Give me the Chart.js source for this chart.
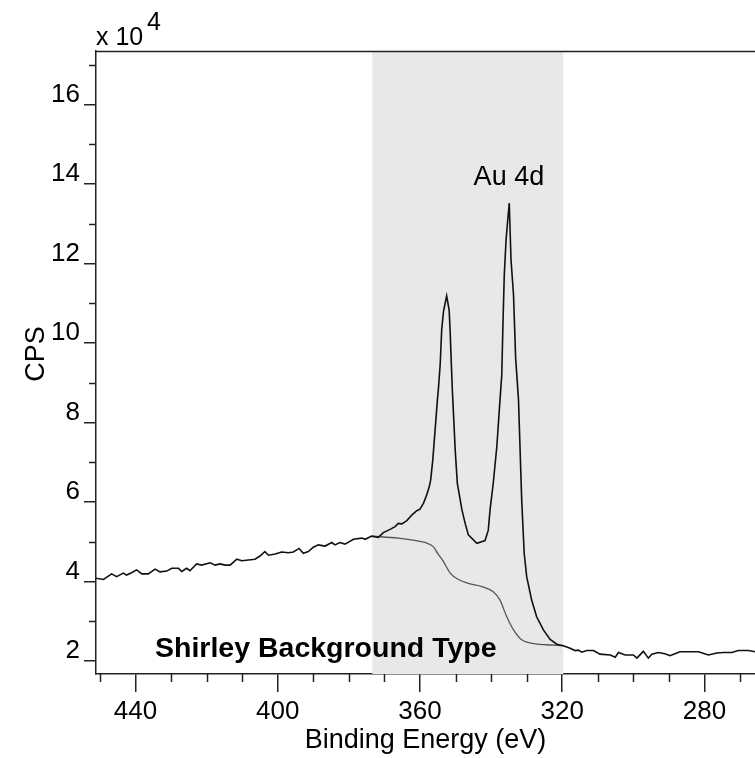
<!DOCTYPE html>
<html>
<head>
<meta charset="utf-8">
<script src="https://cdn.jsdelivr.net/npm/chart.js@4/dist/chart.umd.min.js"></script>
<style>
  html, body { margin: 0; padding: 0; background: #fff; }
  #wrap { width: 755px; height: 758px; position: relative; }
</style>
</head>
<body>
<div id="wrap"><canvas id="c"></canvas></div>
<script>
// ---- data (CPS in units of 10^4) ----
const mainEnergy = [451.2, 449.0, 446.7, 445.3, 443.4, 442.5, 441.1, 439.7, 438.2, 436.4, 434.5, 433.1, 431.2, 429.8, 427.9, 427.0, 425.6, 424.7, 422.8, 421.4, 419.0, 417.6, 416.2, 414.8,
  413.4, 411.5, 410.1, 406.4, 405.0, 403.6, 402.6, 400.7, 398.9, 397.0, 395.6, 394.0, 392.8, 391.4, 390.0, 388.6, 386.7, 384.8, 383.9, 382.5, 381.1, 378.7, 376.4, 375.4, 373.6,
  371.7, 370.3, 368.4, 367.0, 366.1, 365.1, 363.7, 362.3, 360.9, 360.0, 359.0, 358.1, 357.4, 357.0, 356.4,
  355.1,
  354.8, 354.3, 353.9, 353.4, 352.5, 351.8, 351.5, 351.2, 350.9, 350.1, 349.5, 348.2, 347.3, 346.4, 344.0, 341.7, 340.8, 340.3, 339.4, 338.4, 337.5,
  337.0, 336.7, 336.3, 335.8, 335.4, 334.9, 334.4, 333.7, 333.1, 332.3, 331.4, 330.7, 330.0, 328.6, 327.2, 325.3, 323.4, 321.5, 319.7,
  317.8, 316.4, 315.5, 314.5, 313.1, 311.2, 309.4, 306.5, 305.1, 304.2, 302.3, 300.0, 299.0, 297.2, 295.8, 294.8, 293.0, 291.1, 289.7, 288.3, 286.9, 281.7, 278.9, 276.5, 274.7, 272.3, 270.5, 267.6, 265.8];
const mainCps = [4.08, 4.05, 4.19, 4.12, 4.21, 4.16, 4.22, 4.29, 4.19, 4.19, 4.31, 4.24, 4.26, 4.33, 4.33, 4.25, 4.33, 4.27, 4.44, 4.41, 4.47, 4.41, 4.44, 4.41,
  4.41, 4.56, 4.52, 4.56, 4.64, 4.75, 4.66, 4.69, 4.74, 4.72, 4.74, 4.83, 4.71, 4.75, 4.86, 4.92, 4.89, 4.98, 4.92, 4.98, 4.94, 5.06, 5.09, 5.06, 5.14,
  5.11, 5.23, 5.31, 5.38, 5.46, 5.45, 5.53, 5.67, 5.78, 5.82, 5.97, 6.18, 6.38, 6.55, 7.06,
  8.57,
  8.87, 9.49, 10.33, 10.79, 11.19, 10.83, 10.25, 9.50, 8.82, 7.31, 6.47, 5.80, 5.46, 5.17, 4.96, 5.03, 5.29, 5.80, 6.47, 7.39, 8.57,
  9.20, 10.38, 11.71, 12.59, 13.02, 13.52, 12.09, 11.21, 9.62, 8.57, 6.05, 4.71, 4.12, 3.53, 3.11, 2.78, 2.54, 2.42, 2.38,
  2.32, 2.26, 2.27, 2.22, 2.26, 2.26, 2.17, 2.15, 2.09, 2.21, 2.15, 2.15, 2.07, 2.24, 2.07, 2.17, 2.21, 2.18, 2.13, 2.18, 2.23, 2.23, 2.15, 2.20, 2.21, 2.21, 2.26, 2.26, 2.23];

const bgEnergy = [373.6, 366.1, 361.9, 358.6, 356.2, 355.0, 353.4, 351.5, 349.2, 346.4, 342.6, 339.4, 337.5, 335.6, 333.7, 331.4, 327.6, 322.9, 319.7];
const bgCps    = [5.14, 5.09, 5.04, 4.98, 4.87, 4.70, 4.50, 4.21, 4.05, 3.95, 3.87, 3.74, 3.53, 3.11, 2.78, 2.53, 2.43, 2.40, 2.38];

const shadeRange = [373.4, 319.7];          // eV, fitting region
const xRange = [265.8, 451.1];               // eV (axis reversed)
const yRange = [1.67, 17.35];                // x 10^4 CPS
const xMajorTicks = [440, 400, 360, 320, 280];
const yMajorTicks = [2, 4, 6, 8, 10, 12, 14, 16];
const peakLabel = 'Au 4d';
const bgLabel = 'Shirley Background Type';
const yTitle = 'CPS';
const xTitle = 'Binding Energy (eV)';

const FONT = '"Liberation Sans", Arial, Helvetica, sans-serif';

const toXY = (xs, ys) => xs.map((x, i) => ({x: x, y: ys[i]}));

const shadePlugin = {
  id: 'shade',
  beforeDatasetsDraw(chart) {
    const {ctx, chartArea: a, scales: {x}} = chart;
    const x1 = x.getPixelForValue(shadeRange[0]);
    const x2 = x.getPixelForValue(shadeRange[1]);
    ctx.save();
    ctx.fillStyle = '#e8e8e8';
    ctx.fillRect(Math.min(x1, x2), a.top, Math.abs(x2 - x1), a.bottom - a.top);
    ctx.restore();
  }
};

const decorPlugin = {
  id: 'decor',
  afterDraw(chart) {
    const {ctx, chartArea: a, scales: {x, y}} = chart;
    ctx.save();
    ctx.strokeStyle = '#222';
    ctx.lineWidth = 1.5;
    // top frame line
    ctx.beginPath();
    ctx.moveTo(a.left, a.top + 0.5);
    ctx.lineTo(a.right, a.top + 0.5);
    ctx.stroke();
    // minor ticks
    ctx.beginPath();
    x.ticks.forEach(t => {
      if (xMajorTicks.indexOf(t.value) === -1) {
        const px = Math.round(x.getPixelForValue(t.value)) + 0.5;
        ctx.moveTo(px, a.bottom);
        ctx.lineTo(px, a.bottom + 8);
      }
    });
    y.ticks.forEach(t => {
      if (yMajorTicks.indexOf(t.value) === -1) {
        const py = Math.round(y.getPixelForValue(t.value)) + 0.5;
        ctx.moveTo(a.left, py);
        ctx.lineTo(a.left - 7, py);
      }
    });
    ctx.stroke();
    // texts
    ctx.fillStyle = '#000';
    ctx.textBaseline = 'alphabetic';
    ctx.font = '25px ' + FONT;
    ctx.textAlign = 'left';
    ctx.fillText('x 10', a.left, a.top - 6);
    ctx.fillText('4', a.left + 51, a.top - 21);
    ctx.font = '27px ' + FONT;
    ctx.textAlign = 'center';
    ctx.fillText(peakLabel, x.getPixelForValue(335.0), y.getPixelForValue(13.98));
    ctx.font = 'bold 28.5px ' + FONT;
    ctx.textAlign = 'left';
    ctx.fillText(bgLabel, 155, y.getPixelForValue(2.09));
    // rotated y title
    ctx.font = '27px ' + FONT;
    ctx.textAlign = 'center';
    ctx.textBaseline = 'middle';
    ctx.translate(37, 354);
    ctx.rotate(-Math.PI / 2);
    ctx.fillText(yTitle, 0, 0);
    ctx.restore();
  }
};

new Chart(document.getElementById('c'), {
  type: 'scatter',
  data: {
    datasets: [
      {
        label: 'Au 4d spectrum',
        data: toXY(mainEnergy, mainCps),
        showLine: true,
        borderColor: '#111',
        borderWidth: 1.6,
        pointRadius: 0,
        tension: 0,
        order: 1
      },
      {
        label: 'Shirley background',
        data: toXY(bgEnergy, bgCps),
        showLine: true,
        borderColor: '#555',
        borderWidth: 1.3,
        pointRadius: 0,
        cubicInterpolationMode: 'monotone',
        order: 2
      }
    ]
  },
  options: {
    responsive: true,
    maintainAspectRatio: false,
    animation: false,
    devicePixelRatio: 1,
    layout: { padding: { top: 51, right: 0, left: 0, bottom: 0 } },
    plugins: {
      legend: { display: false },
      tooltip: { enabled: false }
    },
    scales: {
      x: {
        type: 'linear',
        reverse: true,
        min: xRange[0],
        max: xRange[1],
        afterFit(scale) { scale.height = 84; },
        border: { display: true, color: '#222', width: 1.5 },
        grid: {
          display: true,
          drawOnChartArea: false,
          drawTicks: true,
          tickLength: 18,
          lineWidth: 1.5,
          tickColor: (c) => (c.tick && xMajorTicks.indexOf(c.tick.value) !== -1) ? '#222' : 'rgba(0,0,0,0)'
        },
        ticks: {
          stepSize: 10,
          includeBounds: false,
          autoSkip: false,
          maxRotation: 0,
          padding: 4,
          color: '#000',
          font: { family: FONT, size: 26 },
          callback: (v) => xMajorTicks.indexOf(v) !== -1 ? String(v) : ''
        },
        title: {
          display: true,
          text: xTitle,
          color: '#000',
          font: { family: FONT, size: 27 },
          padding: { top: 0, bottom: 1 }
        }
      },
      y: {
        type: 'linear',
        min: yRange[0],
        max: yRange[1],
        afterFit(scale) { scale.width = 96; },
        border: { display: true, color: '#222', width: 1.5 },
        grid: {
          display: true,
          drawOnChartArea: false,
          drawTicks: true,
          tickLength: 12,
          lineWidth: 1.5,
          tickColor: (c) => (c.tick && yMajorTicks.indexOf(c.tick.value) !== -1) ? '#222' : 'rgba(0,0,0,0)'
        },
        ticks: {
          stepSize: 1,
          includeBounds: false,
          autoSkip: false,
          padding: 4,
          labelOffset: -10,
          color: '#000',
          font: { family: FONT, size: 26 },
          callback: (v) => yMajorTicks.indexOf(v) !== -1 ? String(v) : ''
        },
        title: { display: false }
      }
    }
  },
  plugins: [shadePlugin, decorPlugin]
});
</script>
</body>
</html>
